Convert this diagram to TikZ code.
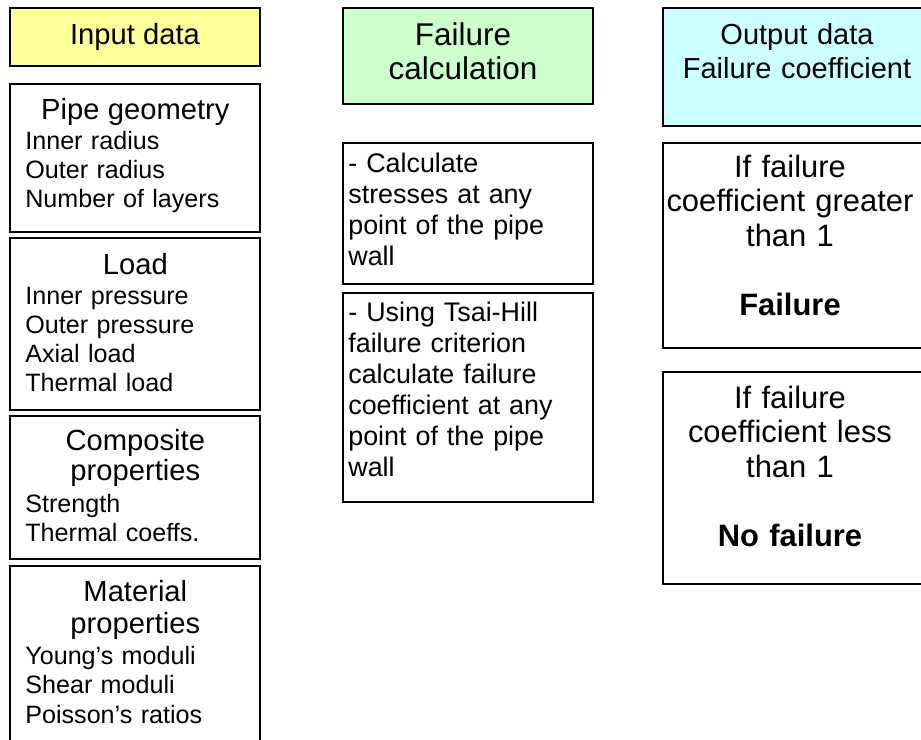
\documentclass[tikz,border=0pt]{standalone}
\usepackage{fontspec}
\setmainfont{Liberation Sans}
\usepackage{tikz}

\definecolor{inyellow}{HTML}{FFFF99}
\definecolor{calcgreen}{HTML}{CCFFCC}
\definecolor{outcyan}{HTML}{CCFFFF}

\newcommand{\hdfont}{\fontsize{16.6}{18}\selectfont}
\newcommand{\hdline}[1]{\makebox[\linewidth]{\hdfont #1}}

\begin{document}
\begin{tikzpicture}[x=0.02cm, y=-0.02cm,
    frame/.style={draw=black, line width=0.9pt},
    lefttxt/.style={anchor=base west, inner sep=0pt, text width=4.4cm, align=left,
        font=\fontsize{14.3}{16.6}\selectfont},
    midtxt/.style={anchor=base west, inner sep=0pt, text width=4.8cm, align=left,
        font=\fontsize{15.3}{17.6}\selectfont},
    righttxt/.style={anchor=base, inner sep=0pt, text width=5.4cm, align=center,
        font=\fontsize{17.6}{19.6}\selectfont}]

\useasboundingbox (0,0) rectangle (921,740);
\clip (0,0) rectangle (921,740);

% --- INPUT DATA (left column) ---
\begin{scope}
    % Boxes
    \fill[inyellow, frame] (10,8) rectangle (260,66);
    \draw[frame] (10,84) rectangle (260,232);
    \draw[frame] (10,238) rectangle (260,410);
    \draw[frame] (10,416) rectangle (260,559);
    \draw[frame] (10,566) rectangle (260,760);

    % Texts
    \node[anchor=base, inner sep=0pt, font=\hdfont] (intitle) at (135,45) {Input data};
    \node[lefttxt] (geom) at (25,120) {\hdline{Pipe geometry}\\
        Inner radius\\ Outer radius\\ Number of layers};
    \node[lefttxt] (load) at (25,275) {\hdline{Load}\\
        Inner pressure\\ Outer pressure\\ Axial load\\ Thermal load};
    \node[lefttxt] (comp) at (25,451) {\hdline{Composite}\\ \hdline{properties}\\[1.7pt]
        Strength\\ Thermal coeffs.};
    \node[lefttxt] (matl) at (25,602) {\hdline{Material}\\[1.5pt] \hdline{properties}\\[1pt]
        Young’s moduli\\ Shear moduli\\ Poisson’s ratios};
\end{scope}

% --- FAILURE CALCULATION (middle column) ---
\begin{scope}
    \fill[calcgreen, frame] (343,8) rectangle (593,104);
    \draw[frame] (343,143) rectangle (593,284);
    \draw[frame] (343,293) rectangle (593,502);

    \node[anchor=base, inner sep=0pt, text width=6cm, align=center,
        font=\fontsize{17.9}{19.4}\selectfont] (calctitle) at (463,45.5) {Failure\\ calculation};
    \node[midtxt] (stress) at (348,173) {- Calculate\\ stresses at any\\ point of the pipe\\ wall};
    \node[midtxt] (tsai) at (348,322) {- Using Tsai-Hill\\ failure criterion\\ calculate failure\\
        coefficient at any\\ point of the pipe\\ wall};
\end{scope}

% --- OUTPUT DATA (right column) ---
\begin{scope}
    \fill[outcyan, frame] (663,8) rectangle (940,126);
    \draw[frame] (663,143) rectangle (940,348);
    \draw[frame] (663,372) rectangle (940,584);

    \node[anchor=base, inner sep=0pt, text width=5.6cm, align=center,
        font=\fontsize{16.5}{18.8}\selectfont] (outtitle) at (797,45) {Output data\\ Failure coefficient};
    \node[righttxt] (fail) at (790,177.5) {If failure\\ coefficient greater\\ than 1\\[0.69cm]
        \textbf{Failure}};
    \node[righttxt] (nofail) at (790,408.5) {If failure\\ coefficient less\\ than 1\\[0.69cm]
        \textbf{No failure}};
\end{scope}

\end{tikzpicture}
\end{document}
